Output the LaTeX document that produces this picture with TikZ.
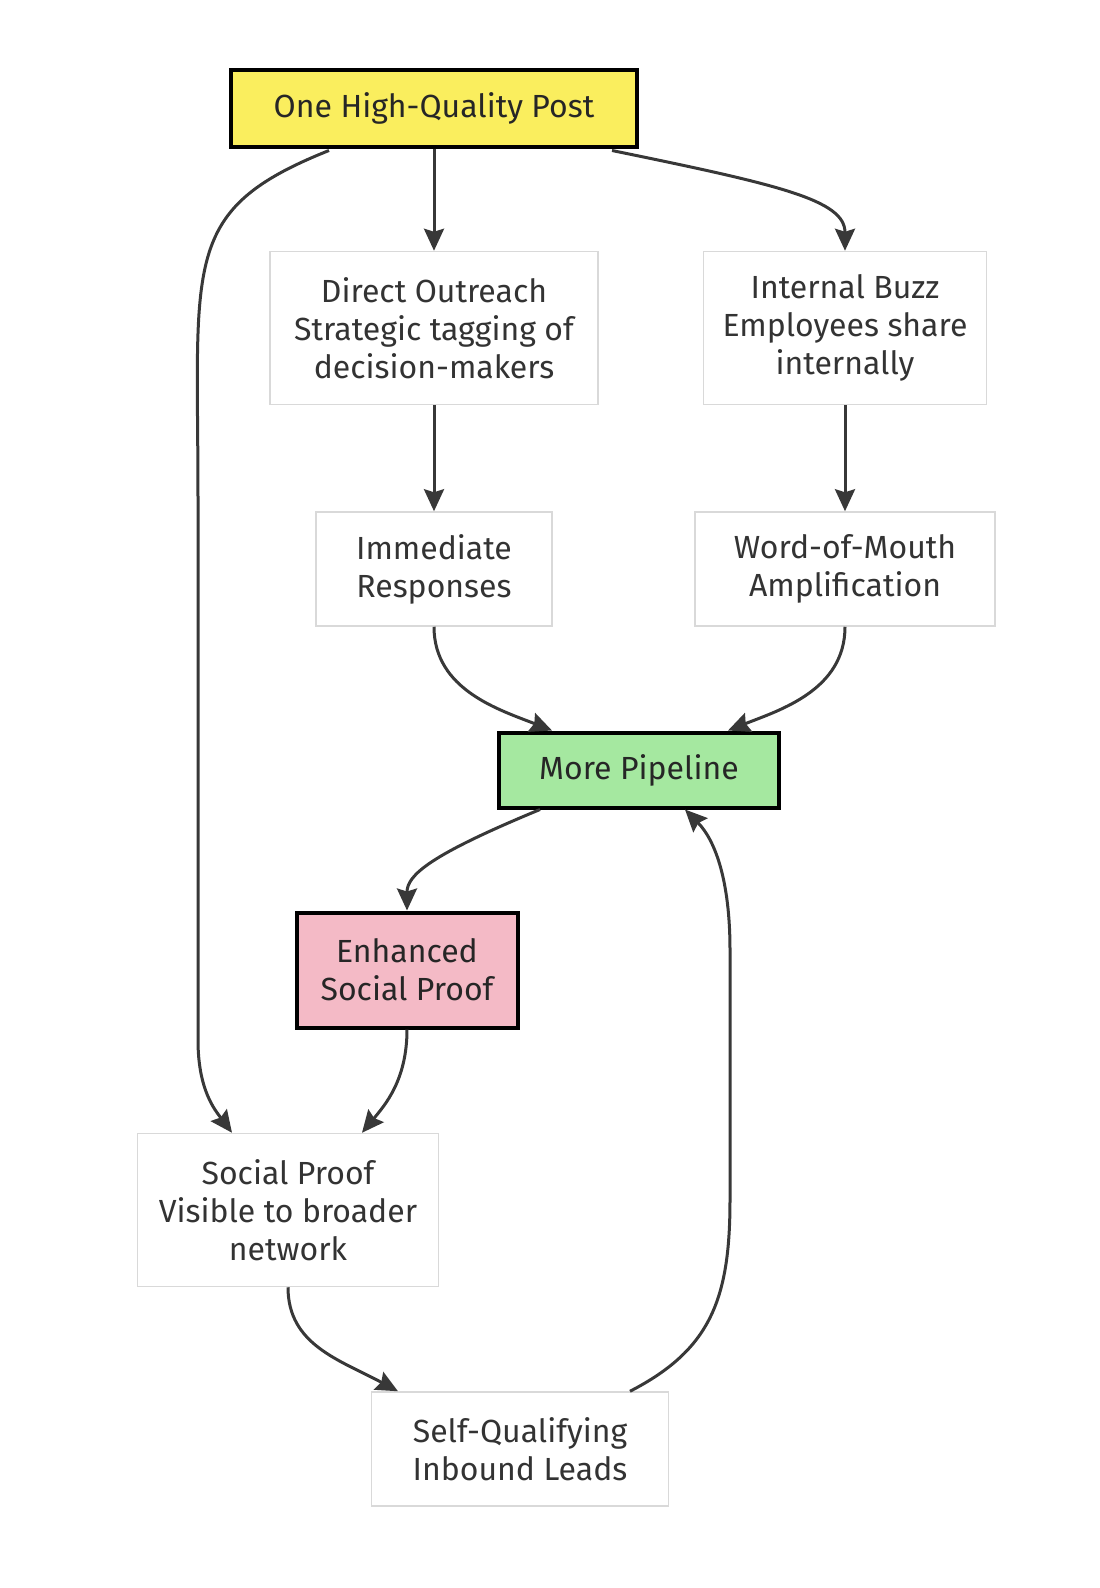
\documentclass[tikz,border=0pt]{standalone}
\usepackage{fontspec}
\setmainfont{Fira Sans}
\usetikzlibrary{arrows.meta}
\definecolor{yel}{HTML}{FAEE5E}
\definecolor{grn}{HTML}{A5E8A0}
\definecolor{pnk}{HTML}{F4BAC6}
\begin{document}
\begin{tikzpicture}[x=1pt,y=-1pt,
  box/.style={draw=black!15,line width=1.5pt,fill=white,align=center,font=\fontsize{32}{38}\selectfont,text=black!80,inner sep=0pt},
  hl/.style={draw=black,line width=4pt,text=black!85},
  e/.style={draw=black!78,line width=3pt,-{Stealth[length=22pt,width=20pt,inset=3pt]}}]
\useasboundingbox (0,0) rectangle (1100,1588);
\node[box,hl,fill=yel,minimum width=406,minimum height=77] (post) at (434,108) {One High-Quality Post};
\node[box,minimum width=328,minimum height=153] (dir) at (434,328) {Direct Outreach\\Strategic tagging of\\decision-makers};
\node[box,minimum width=283,minimum height=153] (buzz) at (845,328) {Internal Buzz\\Employees share\\internally};
\node[box,minimum width=236,minimum height=114] (imm) at (434,569) {Immediate\\Responses};
\node[box,minimum width=300,minimum height=114] (wom) at (845,569) {Word-of-Mouth\\Amplification};
\node[box,hl,fill=grn,minimum width=280,minimum height=75] (pipe) at (639,770) {More Pipeline};
\node[box,hl,fill=pnk,minimum width=221,minimum height=115] (enh) at (407,970) {Enhanced\\Social Proof};
\node[box,minimum width=301,minimum height=153] (sp) at (288,1210) {Social Proof\\Visible to broader\\network};
\node[box,minimum width=297,minimum height=114] (self) at (520,1449) {Self-Qualifying\\Inbound Leads};
\draw[e] (post) -- (dir);
\draw[e] (post.south east)+(-27,2) .. controls (780,185) and (845,200) .. (buzz.north);
\draw[e] (post.south west)+(100,2) .. controls (180,210) and (198,260) .. (198,500) -- (198,1040) .. controls (198,1090) and (215,1110) .. ([xshift=-56]sp.north);
\draw[e] (dir) -- (imm);
\draw[e] (buzz) -- (wom);
\draw[e] (imm.south) .. controls (434,690) and (500,710) .. ([xshift=-87]pipe.north);
\draw[e] (wom.south) .. controls (845,690) and (780,710) .. ([xshift=89]pipe.north);
\draw[e] ([xshift=-99]pipe.south) .. controls (430,855) and (407,875) .. (enh.north);
\draw[e] (enh.south) .. controls (407,1080) and (385,1105) .. ([xshift=74]sp.north);
\draw[e] (sp.south) .. controls (288,1345) and (340,1360) .. ([xshift=-122]self.north);
\draw[e] ([xshift=110]self.north) .. controls (710,1350) and (730,1300) .. (730,1200) -- (730,950) .. controls (730,880) and (715,840) .. ([xshift=46]pipe.south);
\end{tikzpicture}
\end{document}
